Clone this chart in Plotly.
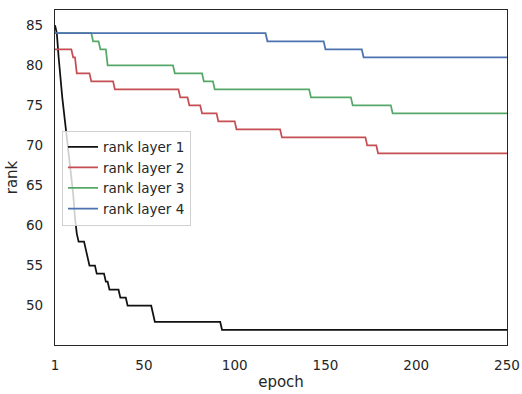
import plotly.graph_objects as go

# Data: (epoch, rank) points where each series changes
epochs_l1 = [1, 2, 3, 4, 5, 6, 7, 8, 9, 10, 11, 12, 13, 14, 17, 18, 19, 20, 23, 24, 28, 29, 30, 31, 36, 37, 40, 41, 54, 55, 56, 92, 93, 250]
rank_l1 = [85, 84, 81, 78, 76, 74, 72, 70, 68, 66, 64, 61, 59, 58, 58, 57, 56, 55, 55, 54, 54, 53, 53, 52, 52, 51, 51, 50, 50, 49, 48, 48, 47, 47]

epochs_l2 = [1, 10, 11, 12, 13, 20, 21, 33, 34, 69, 70, 74, 75, 81, 82, 90, 91, 100, 101, 125, 126, 172, 173, 178, 179, 250]
rank_l2 = [82, 82, 81, 81, 79, 79, 78, 78, 77, 77, 76, 76, 75, 75, 74, 74, 73, 73, 72, 72, 71, 71, 70, 70, 69, 69]

epochs_l3 = [1, 21, 22, 25, 26, 29, 30, 66, 67, 82, 83, 88, 89, 141, 142, 164, 165, 186, 187, 250]
rank_l3 = [84, 84, 83, 83, 82, 82, 80, 80, 79, 79, 78, 78, 77, 77, 76, 76, 75, 75, 74, 74]

epochs_l4 = [1, 117, 118, 149, 150, 170, 171, 250]
rank_l4 = [84, 84, 83, 83, 82, 82, 81, 81]

names = ["rank layer 1", "rank layer 2", "rank layer 3", "rank layer 4"]
colors = ["#111111", "#C44E52", "#55A868", "#4C72B0"]
x_ticks = [1, 50, 100, 150, 200, 250]
y_ticks = [50, 55, 60, 65, 70, 75, 80, 85]

series = [(epochs_l1, rank_l1), (epochs_l2, rank_l2), (epochs_l3, rank_l3), (epochs_l4, rank_l4)]

fig = go.Figure()
for (xs, ys), name, col in zip(series, names, colors):
    fig.add_trace(go.Scatter(x=xs, y=ys, mode="lines", name=name,
                             line=dict(color=col, width=1.75)))

txt = "#262626"
fig.update_layout(
    width=522, height=394,
    margin=dict(l=55, r=15, t=10, b=49),
    paper_bgcolor="white", plot_bgcolor="white",
    font=dict(family="DejaVu Sans", color=txt, size=13.5),
    showlegend=True,
    legend=dict(x=0.0155, y=0.64, xanchor="left", yanchor="top",
                bgcolor="rgba(255,255,255,0.8)", bordercolor="#d0d0d0", borderwidth=1,
                font=dict(size=13.5, color=txt)),
    xaxis=dict(range=[1, 250], tickvals=x_ticks, showgrid=False, zeroline=False,
               showline=True, linecolor="#262626", linewidth=1.25, mirror=True,
               ticks="outside", ticklen=8, tickcolor="rgba(0,0,0,0)", automargin=False,
               title=dict(text="epoch", font=dict(size=15), standoff=4)),
    yaxis=dict(range=[45.1, 86.9], tickvals=y_ticks, showgrid=False, zeroline=False,
               showline=True, linecolor="#262626", linewidth=1.25, mirror=True,
               ticks="outside", ticklen=8, tickcolor="rgba(0,0,0,0)", automargin=False,
               title=dict(text="rank", font=dict(size=15), standoff=4)),
)

fig.write_html("out.html")
